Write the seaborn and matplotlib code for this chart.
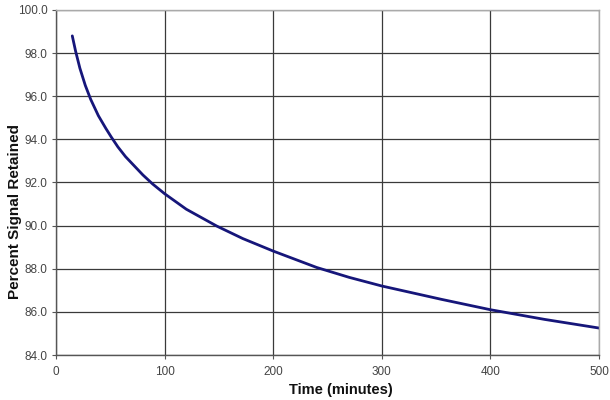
import numpy as np
import pandas as pd
import seaborn as sns
from matplotlib import pyplot as plt
from matplotlib.ticker import FormatStrFormatter, MultipleLocator

#%%

# values
time_min = [15, 18, 22, 27, 32, 39, 46, 51, 57, 64, 80, 89, 100, 120, 148, 172, 200,
            240, 270, 300, 355, 400, 450, 500]
signal_pct = [98.8, 98.1, 97.3, 96.5, 95.85, 95.1, 94.5, 94.1, 93.65, 93.2, 92.35, 91.93,
              91.48, 90.76, 89.98, 89.4, 88.82, 88.06, 87.6, 87.2, 86.58, 86.1, 85.65, 85.25]

df = pd.DataFrame({"time": time_min, "signal": signal_pct})

#%%

sns.set_theme(style="whitegrid")
plt.rcParams['font.family'] = ['Liberation Sans', 'DejaVu Sans']

fig = plt.figure(figsize=(6.1, 4.0), dpi=100)
ax = fig.add_axes([0.0918, 0.1125, 0.8902, 0.8625])

sns.lineplot(data=df, x="time", y="signal", ax=ax, color="#16167a", linewidth=2.0,
             solid_joinstyle="round", solid_capstyle="round")

ax.set_xlim(0, 500)
ax.set_ylim(84, 100)
ax.xaxis.set_major_locator(MultipleLocator(100))
ax.yaxis.set_major_locator(MultipleLocator(2))
ax.yaxis.set_major_formatter(FormatStrFormatter("%.1f"))

ax.grid(True, color="#3a3a3a", linewidth=0.9)
ax.set_axisbelow(True)

for side in ["left", "bottom"]:
    ax.spines[side].set_color("#555555")
    ax.spines[side].set_linewidth(1.0)
for side in ["top", "right"]:
    ax.spines[side].set_color("#aaaaaa")
    ax.spines[side].set_linewidth(1.0)

ax.tick_params(axis="both", which="major", labelsize=8.5, labelcolor="#444444",
               length=3, width=0.8, color="#555555", direction="out", pad=3)
ax.tick_params(axis="x", pad=5)
ax.tick_params(left=True, bottom=True)

ax.set_xlabel("Time (minutes)", fontsize=10.5, fontweight="bold", color="#111111",
              va="center", ha="center")
ax.xaxis.set_label_coords(0.525, -0.102)
ax.set_ylabel("Percent Signal Retained", fontsize=11, fontweight="bold", color="#111111",
              va="center", ha="center")
ax.yaxis.set_label_coords(-0.076, 0.417)

fig.savefig("out.png", dpi=100, facecolor="white")
